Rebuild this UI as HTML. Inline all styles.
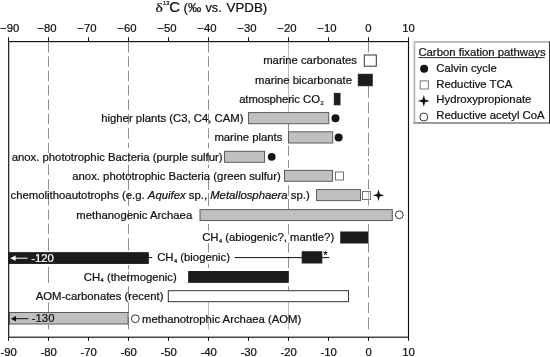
<!DOCTYPE html>
<html><head><meta charset="utf-8"><title>d13C</title>
<style>
html,body{margin:0;padding:0;background:#fff;}
svg{display:block;}
text{font-family:"Liberation Sans",sans-serif;fill:#111;stroke:#111;stroke-width:0.22px;}
.t{font-size:11.34px;}
.s{font-size:5.7px;}
.h{font-size:13.3px;}
</style></head><body>
<svg width="550" height="357" viewBox="0 0 550 357">
<rect width="550" height="357" fill="#fff"/>

<path d="M48.5,42.05V52.5 M48.5,56.4V66.9 M48.5,70.7V81.2 M48.5,85V95.5 M48.5,99.4V109.8 M48.5,113.7V124.2 M48.5,128.25V138.75 M48.5,142.8V152.9 M48.5,164.6V175 M48.5,179.2V189.8 M48.5,193.8V205.6 M48.5,209.6V219.8 M48.5,223.6V233.8 M48.5,238V250.5 M48.5,266.9V283 M48.5,302.4V313 M48.5,317.4V329.4" stroke="#909090" stroke-width="1" fill="none"/>
<path d="M128.5,42.05V52.5 M128.5,56.4V66.9 M128.5,70.7V81.2 M128.5,85V95.5 M128.5,99.4V109.8 M128.5,113.7V124.2 M128.5,128.25V138.75 M128.5,142.8V147.8 M128.5,152.6V162.4 M128.5,164.6V176.4 M128.5,179.2V189.8 M128.5,193.2V205.8 M128.5,210V219.8 M128.5,224V233.8 M128.5,238V250.5 M128.5,265.2V269.4 M128.5,271.4V282 M128.5,286.2V297.4 M128.5,302.4V313 M128.5,317.4V329.4" stroke="#909090" stroke-width="1" fill="none"/>
<path d="M208.5,42.05V52.5 M208.5,56.4V66.9 M208.5,70.7V81.2 M208.5,85V95.5 M208.5,99.4V109.8 M208.5,113.7V124.2 M208.5,128.25V138.75 M208.5,142.8V148.4 M208.5,152.6V162.4 M208.5,164.6V168 M208.5,179.2V189.8 M208.5,193.2V205.8 M208.5,224V230.7 M208.5,243.3V252.3 M208.5,263.8V268" stroke="#909090" stroke-width="1" fill="none"/>
<path d="M288.5,123.8V131.8 M288.5,145.6V156 M288.5,160V168 M288.5,185.4V196 M288.5,199V209 M288.5,224V234.6 M288.5,242.8V252.6 M288.5,256.8V268 M288.5,286.2V290.4" stroke="#909090" stroke-width="1" fill="none"/>
<path d="M368.5,42.05V52.5 M368.5,86V97.7 M368.5,102.2V113.3 M368.5,117.3V128.4 M368.5,132.8V144.3 M368.5,147.5V156.1 M368.5,158.8V161.2 M368.5,164.2V175.3 M368.5,179.3V189.4 M368.5,199.5V205.5 M368.5,224V231.5 M368.5,242.8V252.6 M368.5,256.8V268 M368.5,271.4V282 M368.5,286.2V297.4 M368.5,302.4V313 M368.5,317.4V329.4" stroke="#909090" stroke-width="1" fill="none"/>
<path d="M288.5,42V112.5 M288.5,302.4V329.6 M208.5,302.4V329.6" stroke="#aaaaaa" stroke-width="0.8" fill="none"/>
<rect x="364.3" y="55" width="12.0" height="11.2" fill="#fff" stroke="#333" stroke-width="1"/>
<rect x="358.3" y="74.3" width="13.9" height="11.4" fill="#1c1c1c" stroke="#1c1c1c" stroke-width="1"/>
<rect x="334.3" y="93.4" width="5.7" height="11.4" fill="#1c1c1c" stroke="#1c1c1c" stroke-width="1"/>
<rect x="248.5" y="112.6" width="80.2" height="11.1" fill="#c0c0c0" stroke="#5c5c5c" stroke-width="1"/>
<rect x="288.5" y="131.8" width="44.2" height="11.2" fill="#c0c0c0" stroke="#5c5c5c" stroke-width="1"/>
<rect x="224.5" y="151.3" width="40.0" height="11.0" fill="#c0c0c0" stroke="#5c5c5c" stroke-width="1"/>
<rect x="284.5" y="170.4" width="48.0" height="10.9" fill="#c0c0c0" stroke="#5c5c5c" stroke-width="1"/>
<rect x="316.5" y="189.6" width="44.0" height="11.0" fill="#c0c0c0" stroke="#5c5c5c" stroke-width="1"/>
<rect x="200" y="209.6" width="192.3" height="10.9" fill="#c0c0c0" stroke="#5c5c5c" stroke-width="1"/>
<rect x="340.8" y="232" width="27.2" height="11" fill="#1c1c1c" stroke="#1c1c1c" stroke-width="1"/>
<rect x="9" y="252.7" width="139.3" height="10.7" fill="#1c1c1c" stroke="#1c1c1c" stroke-width="1"/>
<path d="M148.3,257.6H152.2 M234.7,257.6H329.2" stroke="#111" stroke-width="1" fill="none"/>
<rect x="302.2" y="251.8" width="19.6" height="11.2" fill="#1c1c1c" stroke="#1c1c1c" stroke-width="1"/>
<rect x="188.7" y="271.5" width="99.6" height="10.8" fill="#1c1c1c" stroke="#1c1c1c" stroke-width="1"/>
<rect x="168.3" y="290.7" width="180.2" height="11.0" fill="#fff" stroke="#333" stroke-width="1"/>
<rect x="9.3" y="312.5" width="118.8" height="11.5" fill="#c0c0c0" stroke="#5c5c5c" stroke-width="1"/>
<rect x="8.7" y="41.6" width="399.8" height="295.6" fill="none" stroke="#111" stroke-width="1.15"/>
<path d="M8.5,37.3V41.6 M8.5,337.2V340.8" stroke="#111" stroke-width="1" fill="none"/>
<text class="t" x="9.7" y="32.4" text-anchor="middle">−90</text>
<text class="t" x="8.6" y="356.3" text-anchor="middle">-90</text>
<path d="M48.5,37.3V41.6 M48.5,337.2V340.8" stroke="#111" stroke-width="1" fill="none"/>
<text class="t" x="46.9" y="32.4" text-anchor="middle">−80</text>
<text class="t" x="48.6" y="356.3" text-anchor="middle">-80</text>
<path d="M88.5,37.3V41.6 M88.5,337.2V340.8" stroke="#111" stroke-width="1" fill="none"/>
<text class="t" x="86.9" y="32.4" text-anchor="middle">−70</text>
<text class="t" x="88.6" y="356.3" text-anchor="middle">-70</text>
<path d="M128.5,37.3V41.6 M128.5,337.2V340.8" stroke="#111" stroke-width="1" fill="none"/>
<text class="t" x="126.9" y="32.4" text-anchor="middle">−60</text>
<text class="t" x="128.6" y="356.3" text-anchor="middle">-60</text>
<path d="M168.5,37.3V41.6 M168.5,337.2V340.8" stroke="#111" stroke-width="1" fill="none"/>
<text class="t" x="166.9" y="32.4" text-anchor="middle">−50</text>
<text class="t" x="168.6" y="356.3" text-anchor="middle">-50</text>
<path d="M208.5,37.3V41.6 M208.5,337.2V340.8" stroke="#111" stroke-width="1" fill="none"/>
<text class="t" x="206.9" y="32.4" text-anchor="middle">−40</text>
<text class="t" x="208.6" y="356.3" text-anchor="middle">-40</text>
<path d="M248.5,37.3V41.6 M248.5,337.2V340.8" stroke="#111" stroke-width="1" fill="none"/>
<text class="t" x="246.9" y="32.4" text-anchor="middle">−30</text>
<text class="t" x="248.6" y="356.3" text-anchor="middle">-30</text>
<path d="M288.5,37.3V41.6 M288.5,337.2V340.8" stroke="#111" stroke-width="1" fill="none"/>
<text class="t" x="286.9" y="32.4" text-anchor="middle">−20</text>
<text class="t" x="288.6" y="356.3" text-anchor="middle">-20</text>
<path d="M328.5,37.3V41.6 M328.5,337.2V340.8" stroke="#111" stroke-width="1" fill="none"/>
<text class="t" x="326.9" y="32.4" text-anchor="middle">−10</text>
<text class="t" x="328.6" y="356.3" text-anchor="middle">-10</text>
<path d="M368.5,37.3V41.6 M368.5,337.2V340.8" stroke="#111" stroke-width="1" fill="none"/>
<text class="t" x="368.5" y="32.4" text-anchor="middle">0</text>
<text class="t" x="368.6" y="356.3" text-anchor="middle">0</text>
<path d="M408.5,37.3V41.6 M408.5,337.2V340.8" stroke="#111" stroke-width="1" fill="none"/>
<text class="t" x="408.5" y="32.4" text-anchor="middle">10</text>
<text class="t" x="408.6" y="356.3" text-anchor="middle">10</text>
<text class="h" transform="translate(155.4,12.2) scale(1.16,1)" style="font-family:'Liberation Serif',serif;font-size:13.4px">δ</text>
<text x="163" y="5.1" style="font-size:5.8px">13</text>
<text class="h" transform="translate(169.2,12.4) scale(1.12,1.07)">C</text>
<text class="h" x="183.6" y="12.3">(‰</text>
<text class="h" x="205.5" y="12.3" style="font-size:12.7px">vs.</text>
<text class="h" x="226.6" y="12.3">VPDB)</text>
<circle cx="335.5" cy="118.2" r="4.0" fill="#141414"/>
<circle cx="338.6" cy="137.4" r="4.0" fill="#141414"/>
<circle cx="271.7" cy="156.8" r="3.9" fill="#141414"/>
<rect x="335.5" y="172" width="8" height="8" fill="#fff" stroke="#666" stroke-width="0.9"/>
<rect x="362.5" y="191.5" width="8" height="8" fill="#fff" stroke="#666" stroke-width="0.9"/>
<path d="M378.5,189.39999999999998 L379.8,193.89999999999998 L384.3,195.2 L379.8,196.5 L378.5,201.0 L377.2,196.5 L372.7,195.2 L377.2,193.89999999999998 Z" fill="#111"/>
<path d="M368.5,191.5V199.5" stroke="#b5b5b5" stroke-width="1"/>
<circle cx="399.3" cy="214.8" r="3.9" fill="#fff" stroke="#333" stroke-width="1"/>
<circle cx="135.3" cy="318.7" r="3.9" fill="#fff" stroke="#333" stroke-width="1"/>
<text class="t" x="357" y="64.3" text-anchor="end">marine carbonates</text>
<text class="t" x="352" y="83.7" text-anchor="end">marine bicarbonate</text>
<text class="t" x="323.6" y="103" text-anchor="end"><tspan letter-spacing="-0.09">atmospheric</tspan> CO<tspan class="s" dx="0.4" dy="1.7">2</tspan><tspan dy="-1.7"></tspan></text>
<text class="t" x="243.5" y="122.3" text-anchor="end">higher plants (C3, C4, CAM)</text>
<text class="t" x="282.4" y="141.3" text-anchor="end">marine plants</text>
<text class="t" x="222.6" y="160.7" text-anchor="end">anox. phototrophic Bacteria (purple sulfur)</text>
<text class="t" x="280.7" y="179.7" text-anchor="end">anox. phototrophic Bacteria (green sulfur)</text>
<text class="t" x="309.7" y="199" text-anchor="end">chemolithoautotrophs (e.g. <tspan font-style="italic">Aquifex</tspan> sp., <tspan font-style="italic">Metallosphaera</tspan> sp.)</text>
<text class="t" x="192.2" y="218.7" text-anchor="end">methanogenic Archaea</text>
<text class="t" x="334.2" y="241" text-anchor="end">CH<tspan class="s" dx="0.4" dy="1.7">4</tspan><tspan dy="-1.7"> (abiogenic?, mantle?)</tspan></text>
<text class="t" x="230" y="261.3" text-anchor="end">CH<tspan class="s" dx="0.4" dy="1.7">4</tspan><tspan dy="-1.7"> (biogenic)</tspan></text>
<text class="t" x="176.8" y="280.6" text-anchor="end">CH<tspan class="s" dx="0.4" dy="1.7">4</tspan><tspan dy="-1.7"> (thermogenic)</tspan></text>
<text class="t" x="163.5" y="299.8" text-anchor="end">AOM-carbonates (recent)</text>
<text class="t" x="142" y="322.6" text-anchor="start">methanotrophic Archaea (AOM)</text>
<text class="t" x="323.3" y="258.9" style="font-size:11.3px">*</text>
<text class="t" x="31.2" y="261.6" style="fill:#fff;stroke:#fff">-120</text>
<path d="M14,258.2H27.7" stroke="#fff" stroke-width="1"/><path d="M10.2,258.2 L15.6,255.6 L15.6,260.8 Z" fill="#fff"/>
<text class="t" x="31.8" y="322.2">-130</text>
<path d="M14.5,318.7H28.4" stroke="#111" stroke-width="1"/><path d="M10.8,318.7 L16,316 L16,321.4 Z" fill="#111"/>
<path d="M414.4,123.05V42H549.5" fill="none" stroke="#bcbcbc" stroke-width="1.9"/>
<path d="M413.5,123.05H549.5" fill="none" stroke="#7a7a7a" stroke-width="1.4"/>
<path d="M549.5,41.2V123.7" fill="none" stroke="#333" stroke-width="1"/>
<text class="t" x="418.4" y="56.4">Carbon fixation pathways</text>
<path d="M418.4,57.6H544.7" stroke="#111" stroke-width="0.9"/>
<text class="t" x="436.3" y="71.7" text-anchor="start">Calvin cycle</text>
<text class="t" x="436.3" y="87.5" text-anchor="start">Reductive TCA</text>
<text class="t" x="436.3" y="103.3" text-anchor="start">Hydroxypropionate</text>
<text class="t" x="436.3" y="119.2" text-anchor="start">Reductive acetyl CoA</text>
<circle cx="424.1" cy="68.8" r="4.0" fill="#141414"/>
<rect x="420.2" y="80.9" width="8.1" height="8.1" fill="#fff" stroke="#666" stroke-width="0.9"/>
<path d="M423.8,95.0 L425.1,99.60000000000001 L429.7,100.9 L425.1,102.2 L423.8,106.80000000000001 L422.5,102.2 L417.90000000000003,100.9 L422.5,99.60000000000001 Z" fill="#111"/>
<circle cx="423.8" cy="117" r="4.0" fill="#fff" stroke="#333" stroke-width="1"/>
</svg></body></html>
